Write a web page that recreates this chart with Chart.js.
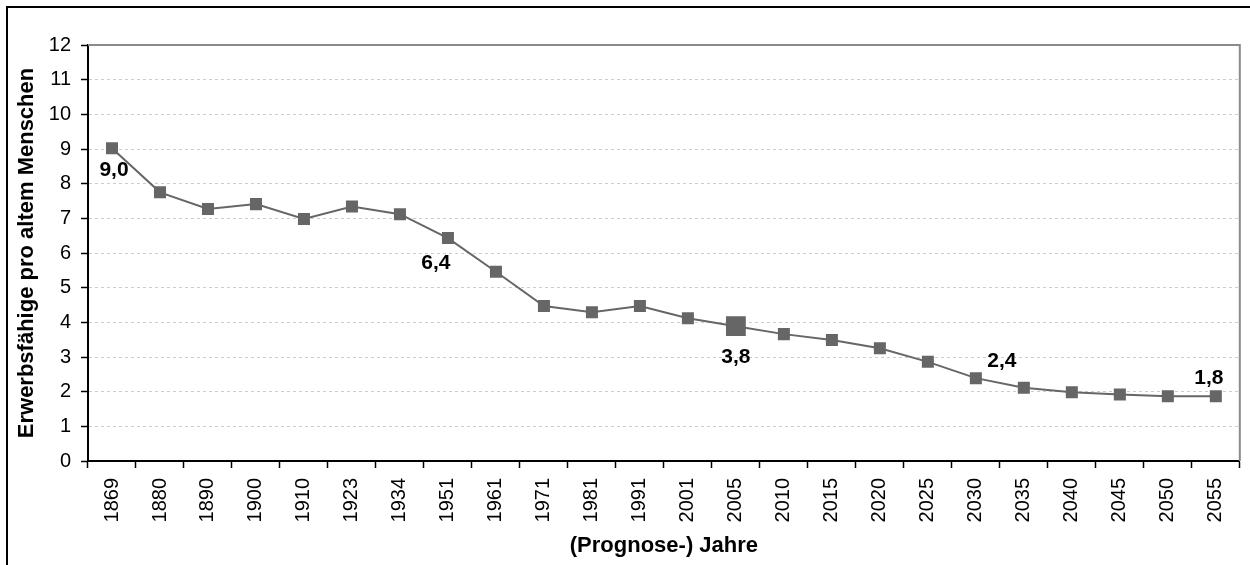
<!DOCTYPE html>
<html>
<head>
<meta charset="utf-8">
<script src="https://cdn.jsdelivr.net/npm/chart.js@4/dist/chart.umd.min.js"></script>
<style>
  html, body { margin: 0; padding: 0; background: #fff; overflow: hidden; }
  #frame {
    position: absolute; left: 6px; top: 6px;
    width: 1300px; height: 620px;
    border: 2px solid #000;
  }
  #chart { display: block; }
</style>
</head>
<body>
<div id="frame">
  <canvas id="chart" width="1242" height="557"></canvas>
</div>
<script>
// Years (historic + forecast)
const years = ['1869', '1880', '1890', '1900', '1910', '1923', '1934', '1951', '1961', '1971',
  '1981', '1991', '2001', '2005', '2010', '2015', '2020', '2025', '2030', '2035',
  '2040', '2045', '2050', '2055'];
// working-age people per old person
const ratio = [9.02, 7.75, 7.27, 7.41, 6.98, 7.34, 7.12, 6.43, 5.46, 4.47,
  4.29, 4.47, 4.12, 3.89, 3.66, 3.49, 3.25, 2.86, 2.39, 2.11,
  1.98, 1.92, 1.87, 1.87];
// labels shown next to some points
const pointLabels = ['9,0', null, null, null, null, null, null, '6,4', null, null,
  null, null, null, '3,8', null, null, null, null, '2,4', null,
  null, null, null, '1,8'];
const yTicks = [0, 1, 2, 3, 4, 5, 6, 7, 8, 9, 10, 11, 12];

const FONT = "'Liberation Sans', Arial, sans-serif";
const labelOffsets = { '1869': [2, 22], '1951': [-12, 25], '2005': [0, 31], '2030': [26, -17], '2055': [-7, -18] };

// gray frame at the top and right of the plot area
const plotFrame = {
  id: 'plotFrame',
  afterDatasetsDraw(chart) {
    const { ctx, chartArea: a } = chart;
    ctx.save();
    ctx.strokeStyle = '#8a8a8a';
    ctx.lineWidth = 2;
    ctx.beginPath();
    ctx.moveTo(a.left, a.top);
    ctx.lineTo(a.right, a.top);
    ctx.lineTo(a.right, a.bottom);
    ctx.stroke();
    ctx.restore();
  }
};

const valueLabels = {
  id: 'valueLabels',
  afterDatasetsDraw(chart) {
    const { ctx } = chart;
    const meta = chart.getDatasetMeta(0);
    ctx.save();
    ctx.font = 'bold 21px ' + FONT;
    ctx.fillStyle = '#000';
    ctx.textAlign = 'center';
    ctx.textBaseline = 'middle';
    pointLabels.forEach((txt, i) => {
      if (!txt) return;
      const off = labelOffsets[years[i]] || [0, -20];
      const p = meta.data[i];
      ctx.fillText(txt, p.x + off[0], p.y + off[1]);
    });
    ctx.restore();
  }
};

const ctx = document.getElementById('chart').getContext('2d');
new Chart(ctx, {
  type: 'line',
  data: {
    labels: years,
    datasets: [{
      data: ratio,
      borderColor: '#666666',
      borderWidth: 2,
      backgroundColor: '#666666',
      pointStyle: 'rect',
      pointRadius: c => years[c.dataIndex] === '2005' ? 14 : 8.5,
      pointBorderWidth: 0,
      pointBackgroundColor: '#666666',
      tension: 0,
      fill: false
    }]
  },
  options: {
    responsive: false,
    animation: false,
    layout: { padding: { left: 0, top: 37, right: 3, bottom: 0 } },
    plugins: {
      legend: { display: false },
      tooltip: { enabled: false }
    },
    scales: {
      x: {
        offset: true,
        grid: {
          offset: true,
          drawOnChartArea: false,
          drawTicks: true,
          tickLength: 7,
          tickColor: '#000',
          tickWidth: 1.5
        },
        border: { color: '#000', width: 2 },
        ticks: {
          color: '#000',
          font: { family: FONT, size: 20 },
          minRotation: 90,
          maxRotation: 90,
          padding: 10,
          autoSkip: false
        },
        title: {
          display: true,
          text: '(Prognose-) Jahre',
          color: '#000',
          font: { family: FONT, size: 22, weight: 'bold' },
          padding: { top: 0, bottom: 6 }
        },
        afterFit(scale) { scale.height = 104; }
      },
      y: {
        min: 0,
        max: 12,
        afterBuildTicks(scale) { scale.ticks = yTicks.map(v => ({ value: v })); },
        grid: {
          color: c => (c.index === 0 || c.index === yTicks.length - 1) ? 'rgba(0,0,0,0)' : '#cccccc',
          lineWidth: 1,
          drawTicks: true,
          tickLength: 7,
          tickColor: '#000',
          tickWidth: 1.5
        },
        border: { color: '#000', width: 2, dash: [3, 3] },
        ticks: {
          color: '#000',
          font: { family: FONT, size: 20 },
          padding: 10
        },
        title: {
          display: true,
          text: 'Erwerbsfähige pro altem Menschen',
          color: '#000',
          font: { family: FONT, size: 22, weight: 'bold' },
          padding: { top: 6, bottom: 0 }
        },
        afterFit(scale) { scale.width = 80; }
      }
    }
  },
  plugins: [plotFrame, valueLabels]
});
</script>
</body>
</html>
